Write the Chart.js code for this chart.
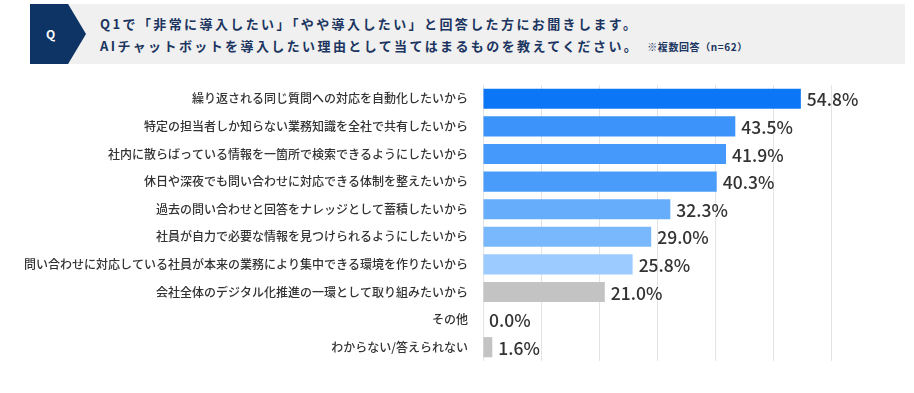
<!DOCTYPE html>
<html><head><meta charset="utf-8">
<script src="https://cdn.jsdelivr.net/npm/chart.js@4"></script>
<style>
html,body{margin:0;padding:0;background:#fff;width:914px;height:393px;overflow:hidden;font-family:"Noto Sans CJK JP","Noto Sans",sans-serif;}
#hdr{position:absolute;left:30px;top:4px;width:875px;height:60px;background:#f0f0f0;}
#qbox{position:absolute;left:30px;top:4px;width:56px;height:60px;background:#0d3464;clip-path:polygon(0 0,68% 0,100% 50%,68% 100%,0 100%);}
#qbox span{position:absolute;left:16px;top:21px;color:#fff;font-weight:bold;font-size:12px;line-height:18px;}
.t{position:absolute;left:100px;color:#1b3560;font-weight:bold;font-size:13px;letter-spacing:2.4px;white-space:nowrap;line-height:18px;}
.t small{font-size:10px;letter-spacing:0.6px;font-weight:bold;margin-left:8px;}
#wrap{position:absolute;left:0;top:0;width:914px;height:393px;}
</style></head>
<body>
<div id="hdr"></div>
<div id="qbox"><span>Q</span></div>
<div class="t" style="top:15px">Q1で「非常に導入したい」「やや導入したい」と回答した方にお聞きします。</div>
<div class="t" style="top:37px">AIチャットボットを導入したい理由として当てはまるものを教えてください。<small>※複数回答（n=62）</small></div>
<div id="wrap"><canvas id="c" width="914" height="393"></canvas></div>
<script>
const categories = [
  "繰り返される同じ質問への対応を自動化したいから",
  "特定の担当者しか知らない業務知識を全社で共有したいから",
  "社内に散らばっている情報を一箇所で検索できるようにしたいから",
  "休日や深夜でも問い合わせに対応できる体制を整えたいから",
  "過去の問い合わせと回答をナレッジとして蓄積したいから",
  "社員が自力で必要な情報を見つけられるようにしたいから",
  "問い合わせに対応している社員が本来の業務により集中できる環境を作りたいから",
  "会社全体のデジタル化推進の一環として取り組みたいから",
  "その他",
  "わからない/答えられない"
];
const values = [54.8, 43.5, 41.9, 40.3, 32.3, 29.0, 25.8, 21.0, 0.0, 1.6];
const barColors = ["#0b77f7","#3c93fa","#4499fb","#4a9cfb","#66adfc","#7ab8fd","#9ccbff","#c3c3c3","#c3c3c3","#c3c3c3"];

const valueLabels = {
  id: 'valueLabels',
  afterDatasetsDraw(chart) {
    const ctx = chart.ctx;
    const meta = chart.getDatasetMeta(0);
    ctx.save();
    ctx.font = '500 17.5px "Noto Sans CJK JP","Noto Sans",sans-serif';
    ctx.fillStyle = '#333333';
    ctx.textAlign = 'left';
    ctx.textBaseline = 'middle';
    meta.data.forEach((bar, i) => {
      ctx.fillText(values[i].toFixed(1) + '%', bar.x + 6, bar.y + 1);
    });
    ctx.restore();
  }
};

new Chart(document.getElementById('c'), {
  type: 'bar',
  data: {
    labels: categories,
    datasets: [{
      data: values,
      backgroundColor: barColors,
      borderWidth: 0,
      categoryPercentage: 1,
      barPercentage: 0.73
    }]
  },
  options: {
    indexAxis: 'y',
    responsive: false,
    animation: false,
    devicePixelRatio: 1,
    layout: { padding: { top: 85, bottom: 32, left: 0, right: 83 } },
    plugins: { legend: { display: false }, tooltip: { enabled: false } },
    scales: {
      x: {
        min: 0, max: 60,
        ticks: { display: false, stepSize: 10 },
        grid: { color: '#e3e3e3', lineWidth: 1, drawTicks: false },
        border: { display: false },
        afterFit(s) { s.height = 0; }
      },
      y: {
        ticks: {
          color: '#333333',
          padding: 15,
          font: { family: '"Noto Sans CJK JP","Noto Sans",sans-serif', size: 12, weight: '500' }
        },
        grid: { display: false, drawTicks: false },
        border: { display: false },
        afterFit(s) { s.width = 483; }
      }
    }
  },
  plugins: [valueLabels]
});
</script>
</body></html>
